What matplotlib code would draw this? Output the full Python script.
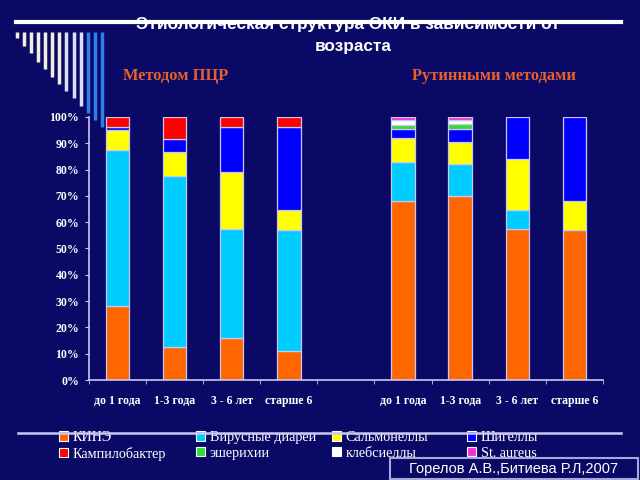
import matplotlib
matplotlib.use("Agg")
import matplotlib.pyplot as plt
from matplotlib.lines import Line2D
from matplotlib.patches import Rectangle
from matplotlib.ticker import PercentFormatter, FixedLocator
import numpy as np

# age groups: PCR method (left 4), gap, routine methods (right 4)
ages = ["до 1 года", "1-3 года", "3 - 6 лет", "старше 6", "",
        "до 1 года", "1-3 года", "3 - 6 лет", "старше 6"]

kine = [28, 12.5, 16, 11, 0, 68, 70, 57.5, 57]
viral = [59.5, 65, 41.5, 46, 0, 15, 12, 7, 0]
salmonella = [7.5, 9, 21.5, 7.5, 0, 9, 8.5, 19.5, 11]
shigella = [1, 5, 17, 31.5, 0, 3.5, 5, 16, 32]
campylo = [4, 8.5, 4, 4, 0, 0, 0, 0, 0]
escher = [0, 0, 0, 0, 0, 1.5, 2, 0, 0]
klebs = [0, 0, 0, 0, 0, 2, 1.5, 0, 0]
aureus = [0, 0, 0, 0, 0, 1, 1, 0, 0]

series = [
    ("КИНЭ", kine, "#ff6600"),
    ("Вирусные диареи", viral, "#00ccff"),
    ("Сальмонеллы", salmonella, "#ffff00"),
    ("Шигеллы", shigella, "#0000ff"),
    ("Кампилобактер", campylo, "#ff0000"),
    ("эшерихии", escher, "#33dd33"),
    ("клебсиеллы", klebs, "#ffffff"),
    ("St. aureus", aureus, "#ee33cc"),
]

BG = "#0a0a66"
EDGE = "#c8c8f0"
SERIF = ["Liberation Serif", "DejaVu Serif"]
SANS = ["Liberation Sans", "DejaVu Sans"]

fig = plt.figure(figsize=(6.4, 4.8), dpi=100, facecolor=BG)
ax = fig.add_axes([0.139, 0.2083, 0.803, 0.548], facecolor=BG)

x = np.arange(len(ages))
bottom = np.zeros(len(ages))
handles = []
for name, vals, col in series:
    vals = np.asarray(vals, dtype=float)
    keep = vals > 0
    ax.bar(x[keep], vals[keep], bottom=bottom[keep], width=0.41,
           color=col, edgecolor=EDGE, linewidth=0.9)
    bottom += vals
    handles.append(Rectangle((0, 0), 1, 1, facecolor=col, edgecolor="white",
                             linewidth=0.8, label=name))

ax.set_xlim(-0.5, 8.5)
ax.set_ylim(0, 100)
ax.set_yticks(np.arange(0, 101, 10))
ax.yaxis.set_major_formatter(PercentFormatter(100, decimals=0))
ax.set_xticks(x)
ax.set_xticklabels(ages)
ax.xaxis.set_minor_locator(FixedLocator(np.arange(-0.5, 9, 1)))
ax.tick_params(axis="x", which="major", length=0, pad=11)
ax.tick_params(axis="x", which="minor", length=3, color=EDGE, direction="out")
ax.tick_params(axis="y", length=3, color=EDGE, pad=4)
for lbl in ax.get_xticklabels() + ax.get_yticklabels():
    lbl.set_family(SERIF)
    lbl.set_fontweight("bold")
    lbl.set_fontsize(8.5)
    lbl.set_color("white")
for side in ("top", "right"):
    ax.spines[side].set_visible(False)
for side in ("left", "bottom"):
    ax.spines[side].set_color(EDGE)
    ax.spines[side].set_linewidth(1.2)

# title with the slide's decorative rule drawn across it
fig.text(348 / 640, 1 - 25 / 480, "Этиологическая структура ОКИ в зависимости от",
         ha="center", va="center", color="white", fontsize=12.4,
         fontweight="bold", family=SANS)
fig.text(353 / 640, 1 - 46 / 480, "возраста", ha="center", va="center",
         color="white", fontsize=12.4, fontweight="bold", family=SANS)
fig.add_artist(Line2D([16 / 640, 621 / 640], [1 - 22 / 480, 1 - 22 / 480],
                      color="white", lw=3, zorder=10))

# decorative vertical bars, top-left corner
bar_x = 16.7 + 7.1 * np.arange(13)
bar_end = [38, 46, 53, 62, 69, 77, 84, 91, 98, 106, 113, 120, 127]
bar_col = ["#f2f0dc"] * 7 + ["#d8e2ff"] * 3 + ["#2f7fe8"] * 3
for bx, be, bc in zip(bar_x, bar_end, bar_col):
    fig.add_artist(Line2D([bx / 640, bx / 640], [1 - 32 / 480, 1 - be / 480],
                          color=bc, lw=2.5, solid_capstyle="butt"))

fig.text(176 / 640, 1 - 76 / 480, "Методом ПЦР", ha="center", va="center",
         color="#e8602c", fontsize=11.8, fontweight="bold", family=SERIF)
fig.text(494 / 640, 1 - 76 / 480, "Рутинными методами", ha="center",
         va="center", color="#e8602c", fontsize=11.8, fontweight="bold",
         family=SERIF)

# legend: 4 columns of 2 rows
col_x = [52, 189, 325, 460]
for i, cx in enumerate(col_x):
    leg = fig.legend(handles=[handles[i], handles[i + 4]],
                     loc="upper left", bbox_to_anchor=(cx / 640, 1 - 424 / 480),
                     frameon=False, handlelength=0.65, handleheight=0.65,
                     handletextpad=0.3, labelspacing=0.18, borderpad=0,
                     prop={"family": SERIF, "size": 10.2})
    for t in leg.get_texts():
        t.set_color("white")
fig.add_artist(Line2D([18 / 640, 621 / 640], [1 - 433 / 480, 1 - 433 / 480],
                      color=EDGE, lw=1.8, zorder=10))

# source box
fig.add_artist(Rectangle((390 / 640, 0.002), 248 / 640, 21 / 480,
                         facecolor=BG, edgecolor="#a8a8d8", lw=1.5))
fig.text(514 / 640, 1 - 469 / 480, "Горелов А.В.,Битиева Р.Л,2007",
         ha="center", va="center", color="white", fontsize=10.5, family=SANS)

fig.savefig("out.png", dpi=100, facecolor=BG)
